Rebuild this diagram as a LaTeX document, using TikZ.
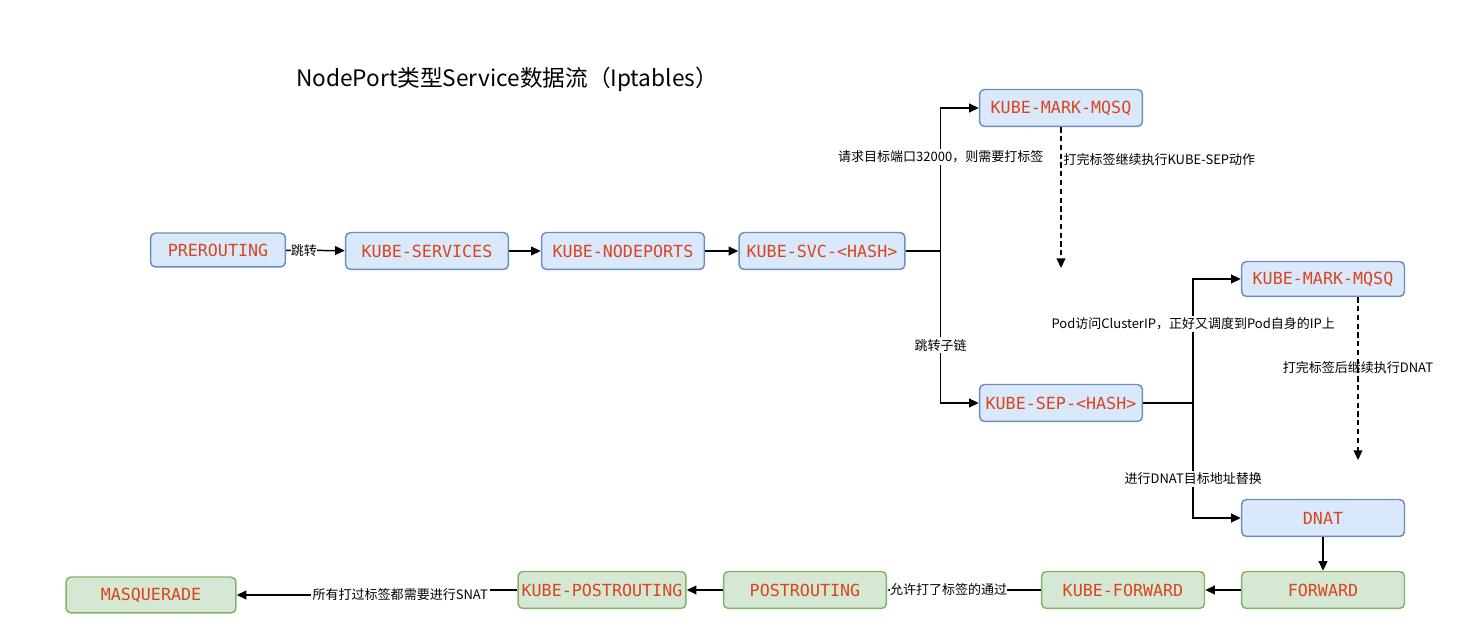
\documentclass[tikz,border=0pt]{standalone}
\usepackage{fontspec}
\setmainfont{Noto Sans CJK SC}
\newfontfamily\chainfont{DejaVu Sans Mono}
\usetikzlibrary{arrows.meta}
\definecolor{bluefill}{HTML}{DAE8FC}
\definecolor{blueline}{HTML}{6C8EBF}
\definecolor{greenfill}{HTML}{D5E8D4}
\definecolor{greenline}{HTML}{82B366}
\definecolor{chaintext}{HTML}{D9451C}

\begin{document}
\begin{tikzpicture}[x=0.02cm, y=-0.02cm,
		chain/.style={rectangle, rounded corners=0.1cm, draw=blueline, fill=bluefill, line width=0.85pt, minimum width=3.26cm, minimum height=0.74cm, inner sep=0pt, font=\chainfont\fontsize{9.5}{11}\selectfont, text=chaintext},
		chaingreen/.style={chain, draw=greenline, fill=greenfill},
		flow/.style={draw, line width=0.85pt, -{Triangle[length=5.5pt, width=5pt]}},
		markflow/.style={flow, dash pattern=on 3pt off 2pt},
		lbl/.style={fill=white, inner sep=1pt, font=\fontsize{7.4}{9}\selectfont}]
	\useasboundingbox (0,0) rectangle (1481,634);

	\node (title) at (507,79) [font=\fontsize{12.9}{15}\selectfont] {NodePort类型Service数据流（Iptables）};

	% chains of the nat table
	\node (prert) at (218,250) [chain, minimum width=2.7cm, minimum height=0.68cm] {PREROUTING};
	\node (svcs) at (427,251) [chain] {KUBE-SERVICES};
	\node (nodeports) at (623,251) [chain] {KUBE-NODEPORTS};
	\node (svchash) at (822,251) [chain, minimum width=3.32cm] {KUBE-SVC-<HASH>};
	\node (markA) at (1061,108) [chain] {KUBE-MARK-MQSQ};
	\node (sephash) at (1061,403) [chain] {KUBE-SEP-<HASH>};
	\node (markB) at (1323,279) [chain, minimum height=0.7cm] {KUBE-MARK-MQSQ};
	\node (dnat) at (1323,518) [chain] {DNAT};

	% filter / postrouting
	\node (fwd) at (1323,590) [chaingreen] {FORWARD};
	\node (kfwd) at (1123,590) [chaingreen] {KUBE-FORWARD};
	\node (postrt) at (805,590) [chaingreen] {POSTROUTING};
	\node (kpostrt) at (602,590) [chaingreen, minimum width=3.36cm] {KUBE-POSTROUTING};
	\node (masq) at (151,595) [chaingreen, minimum width=3.4cm, minimum height=0.72cm] {MASQUERADE};

	\coordinate (markAend) at (1061,268);
	\coordinate (markBend) at (1358,460);

	\draw[flow] (prert) -- node[lbl, pos=0.3, inner sep=0pt] {跳转} (svcs);
	\draw[flow] (svcs) -- (nodeports);
	\draw[flow] (nodeports) -- (svchash);
	\draw[flow] (svchash.east) -- ++(35,0) |- node[lbl, pos=0.33] {请求目标端口32000，则需要打标签} (markA.west);
	\draw[flow] (svchash.east) -- ++(35,0) |- node[lbl, pos=0.31] {跳转子链} (sephash.west);
	\draw[markflow] (markA) -- node[lbl, fill=none, right, pos=0.23] {打完标签继续执行KUBE-SEP动作} (markAend);
	\draw[flow] (sephash.east) -- ++(50,0) |- node[lbl, pos=0.32] {Pod访问ClusterIP，正好又调度到Pod自身的IP上} (markB.west);
	\draw[flow] (sephash.east) -- ++(50,0) |- node[lbl, pos=0.33] {进行DNAT目标地址替换} (dnat.west);
	\draw[markflow] (markB.south -| markBend) -- node[lbl, fill=none, pos=0.43] {打完标签后继续执行DNAT} (markBend);
	\draw[flow] (dnat) -- (fwd);
	\draw[flow] (fwd) -- (kfwd);
	\draw[flow] (kfwd) -- node[lbl, pos=0.6, inner sep=0pt] {允许打了标签的通过} (postrt);
	\draw[flow] (postrt) -- (kpostrt);
	\draw[flow] (kpostrt.west) -- ++(-117,0) |- node[lbl] {所有打过标签都需要进行SNAT} (masq.east);
\end{tikzpicture}
\end{document}
